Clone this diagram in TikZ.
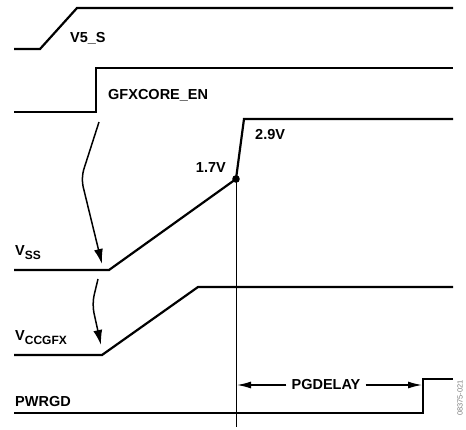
\documentclass[tikz,border=0pt]{standalone}
\usepackage{fontspec}
\setmainfont{Liberation Sans}
\usetikzlibrary{positioning, arrows.meta, calc}

% 下付き文字（ラベル用）
\newcommand{\lowsub}[1]{\raisebox{-0.55ex}{\fontsize{12}{14}\selectfont #1}}

\begin{document}
\begin{tikzpicture}[
    x=1pt, y=-1pt,          % 画像のピクセル座標をそのまま使う（y は下向き）
    >={Latex[length=15pt, width=9pt]},
    font=\fontsize{14.5}{17}\selectfont\bfseries,
    signal/.style={line width=2.2pt, line join=miter},
    cause/.style={->, line width=1.5pt, rounded corners=9pt},
    delay/.style={-{Latex[length=14pt, width=7pt]}, line width=1.3pt}
]
    \useasboundingbox (0, 0) rectangle (466, 429);

    % --- 1. 各信号の波形 ---
    % 【V5_S】
    \draw [signal] (14, 49) -- (40, 49) -- (77, 8) -- (453, 8);
    % 【GFXCORE_EN】
    \draw [signal] (14, 112) -- (96, 112) -- (96, 68) -- (453, 68);
    % 【V_SS】（1.7V で折れ、2.9V まで立ち上がる）
    \coordinate (knee) at (236, 179);
    \draw [signal] (14, 270) -- (109, 270) -- (knee) -- (244, 119) -- (453, 119);
    \fill (knee) circle (3.8);
    % 【V_CCGFX】
    \draw [signal] (14, 355) -- (102, 355) -- (198, 287) -- (453, 287);
    % 【PWRGD】
    \draw [signal] (14, 413) -- (423, 413) -- (423, 379) -- (453, 379);

    % 基準となる縦線
    \coordinate (marker_end) at (236, 427);
    \draw [line width=0.8pt] (knee) -- (marker_end);


    % --- 2. 因果関係の矢印 ---
    \coordinate (en_start) at (99, 122);
    \coordinate (ss_tip) at (102, 264);
    \draw [cause] (en_start) -- (81, 178) -- (ss_tip);

    \coordinate (ss_start) at (98, 279);
    \coordinate (cc_tip) at (101, 345);
    \draw [cause] (ss_start) -- (92, 304) -- (cc_tip);


    % --- 3. ラベル ---
    \node [anchor=base west, inner sep=0] (v5s_label) at (70, 42) {V5\_S};
    \node [anchor=base west, inner sep=0] (en_label) at (108, 99) {GFXCORE\_EN};
    \node [anchor=base west, inner sep=0] (v29_label) at (255, 139) {2.9V};
    \node [anchor=base east, inner sep=0] (v17_label) at (226, 172) {1.7V};
    \node [anchor=base west, inner sep=0] (vss_label) at (15, 255) {V\lowsub{SS}};
    \node [anchor=base west, inner sep=0] (vcc_label) at (15, 340) {V\lowsub{CCGFX}};
    \node [anchor=base west, inner sep=0] (pwrgd_label) at (15, 406) {PWRGD};

    % 【PGDELAY の区間】
    \node [inner sep=5pt] (pgdelay) at (326, 385) {PGDELAY};
    \coordinate (delay_left) at (237, 385);
    \coordinate (delay_right) at (422, 385);
    \draw [delay] (pgdelay.west) -- (delay_left);
    \draw [delay] (pgdelay.east) -- (delay_right);

    % 図番号
    \node [rotate=90, font=\fontsize{7.5}{9}\selectfont, text=gray, inner sep=0] (fig_id) at (460, 398) {08375-021};

\end{tikzpicture}
\end{document}
